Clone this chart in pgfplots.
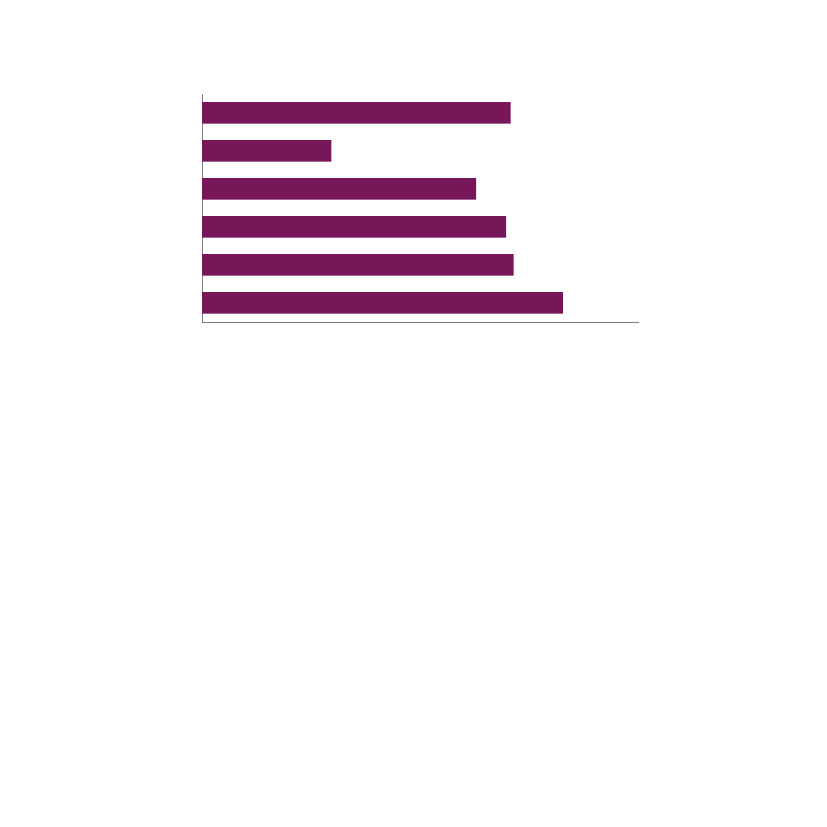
\documentclass[border=0pt]{standalone}
\usepackage{pgfplots}
\pgfplotsset{compat=1.18}
\definecolor{barplum}{RGB}{120,22,90}
\definecolor{axisgray}{RGB}{128,128,128}
\begin{document}
\begin{tikzpicture}
\path[use as bounding box] (0pt,0pt) rectangle (827pt,827pt);
\begin{axis}[
	at={(202pt,505pt)}, anchor=south west,
	scale only axis,
	width=437pt, height=228pt,
	xbar, bar width=21.5pt,
	xmin=0, xmax=100,
	ymin=-0.5, ymax=5.5,
	axis x line*=bottom,
	axis y line*=left,
	axis line style={axisgray, line width=0.9pt, -},
	xtick=\empty, ytick=\empty,
]
\addplot[fill=barplum, draw=none]
coordinates{
	(82.6, 0)
	(71.3, 1)
	(69.6, 2)
	(62.7, 3)
	(29.6, 4)
	(70.6, 5)
};
\end{axis}
\end{tikzpicture}
\end{document}
